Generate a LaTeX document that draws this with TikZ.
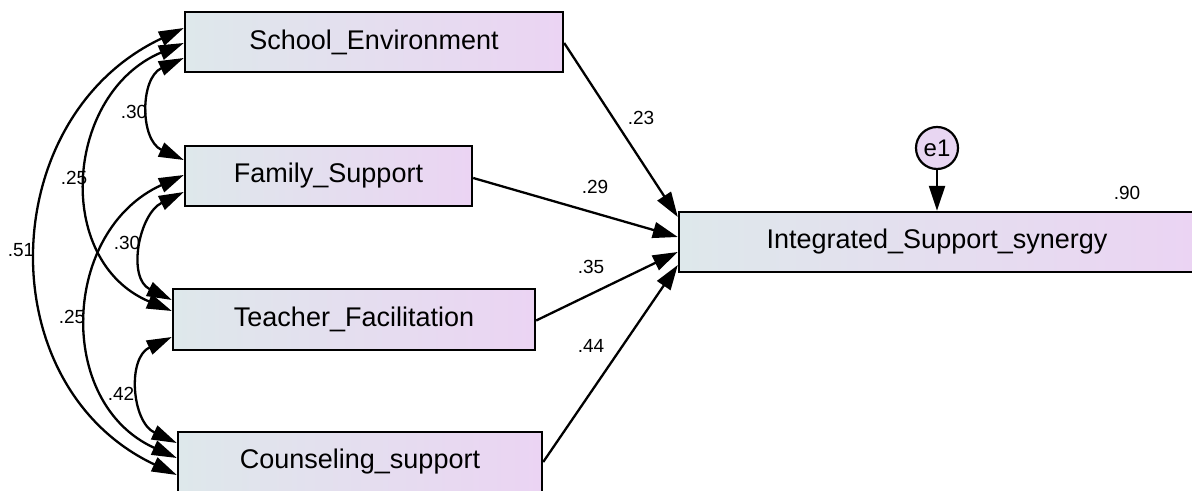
\documentclass[tikz,border=0pt]{standalone}
\usepackage{fontspec}
\setmainfont{Liberation Sans}
\usetikzlibrary{arrows.meta}
\definecolor{boxL}{RGB}{222,232,235}
\definecolor{boxR}{RGB}{235,212,243}
\definecolor{errfill}{RGB}{232,214,242}
\begin{document}
\begin{tikzpicture}[x=1bp,y=-1bp,
  var/.style={draw=black, line width=2.4bp, left color=boxL, right color=boxR,
    inner sep=0pt, minimum height=60bp, font=\fontsize{27bp}{30bp}\selectfont},
  errvar/.style={circle, draw=black, line width=2.2bp, fill=errfill, inner sep=0pt,
    minimum size=42bp, font=\fontsize{24bp}{27bp}\selectfont},
  coef/.style={inner sep=0pt, font=\fontsize{19bp}{22bp}\selectfont},
  reg/.style={line width=2.3bp, -{Triangle[length=25bp,width=16bp]}},
  cov/.style={line width=2.3bp, {Triangle[length=25bp,width=15bp]}-{Triangle[length=25bp,width=15bp]}},
]
\useasboundingbox (0,0) rectangle (1192,491);

% observed variables
\node[var, minimum width=378bp] (sch) at (374,42)    {School\_Environment};
\node[var, minimum width=287bp] (fam) at (328.5,176) {Family\_Support};
\node[var, minimum width=362bp, minimum height=61bp] (tea) at (354,319.5) {Teacher\_Facilitation};
\node[var, minimum width=364bp] (cou) at (360,462)   {Counseling\_support};
\node[var, minimum width=516bp] (isg) at (937,242)   {Integrated\_Support\_synergy};

% error term
\node[errvar] (e1) at (937,148) {e1};
\draw[reg] (e1) -- (isg.north);

% regression paths
\draw[reg] ([yshift=-1bp]sch.east) -- ([yshift=25bp]isg.west);
\draw[reg] ([yshift=-2bp]fam.east) -- ([yshift=5bp]isg.west);
\draw[reg] ([yshift=-1bp]tea.east) -- ([yshift=-10bp]isg.west);
\draw[reg] (cou.east) -- ([yshift=-23bp]isg.west);

% covariances
\draw[cov] ([yshift=14bp]sch.west) .. controls +(-189,89) and +(-189,-89) .. ([yshift=-13bp]cou.west);
\draw[cov] ([yshift=-1bp]sch.west) .. controls +(-119,50) and +(-119,-50) .. ([yshift=8.5bp]tea.west);
\draw[cov] ([yshift=-16bp]sch.west) .. controls +(-44,20) and +(-44,-20) .. ([yshift=16bp]fam.west);
\draw[cov] ([yshift=-16bp]fam.west) .. controls +(-45,22) and +(-45,-22) .. ([yshift=19.5bp]tea.west);
\draw[cov] ([yshift=1bp]fam.west) .. controls +(-122,55) and +(-122,-55) .. ([yshift=4bp]cou.west);
\draw[cov] ([yshift=-17.5bp]tea.west) .. controls +(-45,21) and +(-45,-21) .. ([yshift=19bp]cou.west);

% coefficients
\node[coef] (c23) at (641,118) {.23};
\node[coef] (c29) at (595,187) {.29};
\node[coef] (c35) at (591,267) {.35};
\node[coef] (c44) at (591,346) {.44};
\node[coef] (r2)  at (1127,193) {.90};
\node[coef] (k51) at (21,250) {.51};
\node[coef] (k25a) at (74,178) {.25};
\node[coef] (k30a) at (134,112) {.30};
\node[coef] (k30b) at (127,243) {.30};
\node[coef] (k25b) at (72,317) {.25};
\node[coef] (k42) at (121,394) {.42};
\end{tikzpicture}
\end{document}
